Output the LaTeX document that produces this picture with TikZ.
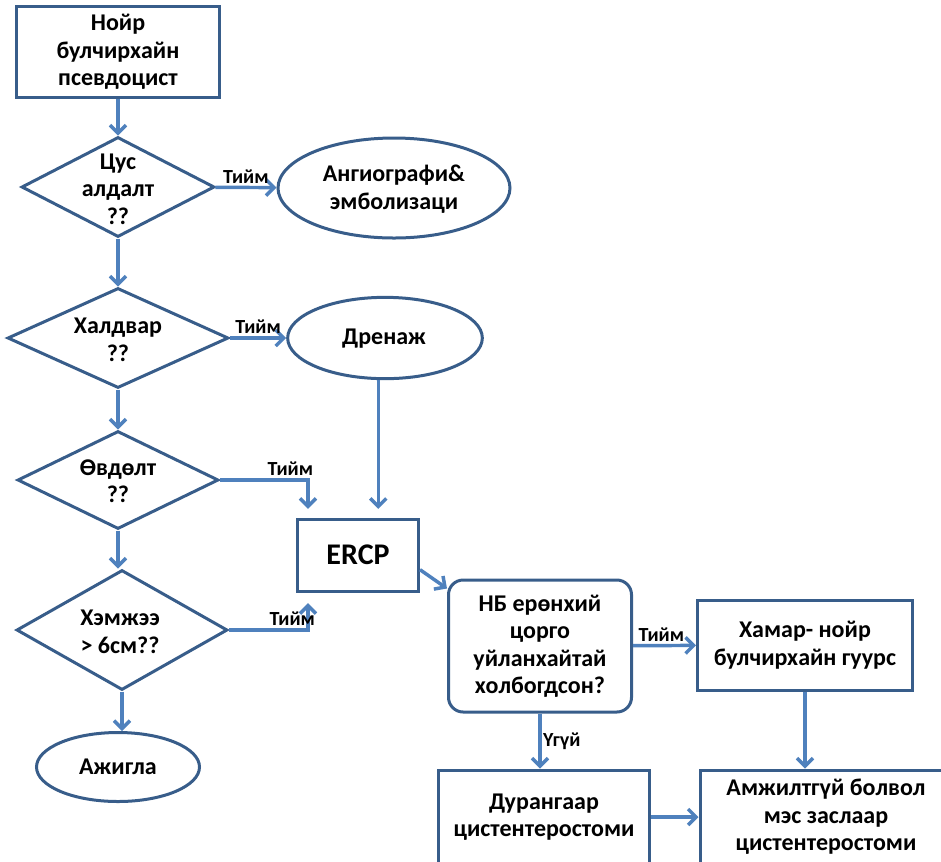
\documentclass[tikz,border=0pt]{standalone}
\usepackage{fontspec}
\setmainfont{Carlito}
\usepackage{tikz}
\usetikzlibrary{shapes.geometric}
\usetikzlibrary{arrows.meta}
\definecolor{edgeblue}{RGB}{56,93,138}
\definecolor{arrowblue}{RGB}{79,129,189}

\begin{document}
\begin{tikzpicture}[x=0.75pt,y=0.75pt,yscale=-1,xscale=1,
  box/.style={draw=edgeblue,line width=2.25pt,rectangle,align=center,font=\bfseries\fontsize{18}{20.6}\selectfont},
  dmd/.style={draw=edgeblue,line width=2.25pt,diamond,inner sep=0pt},
  oval/.style={draw=edgeblue,line width=2.25pt,ellipse,inner sep=0pt},
  txt/.style={align=center,inner sep=0pt,font=\bfseries\fontsize{18}{20.6}\selectfont},
  arr/.style={draw=arrowblue,line width=2.6pt,-{Straight Barb[length=6pt,width=12pt]}},
  yes/.style={font=\bfseries\fontsize{15}{17}\selectfont,text=black,inner sep=2pt}]
\useasboundingbox (0,0) rectangle (941,861);

%Shape: Rectangle [start]
\node [box,minimum width=152.25pt,minimum height=68.25pt] (start) at (118,52) {Нойр\\булчирхайн\\псевдоцист};

%Shape: Diamond [questions]
\node [dmd,minimum width=144.75pt,minimum height=75pt] (bleed) at (118,187) {};
\node [dmd,minimum width=165.75pt,minimum height=75pt] (infect) at (118,338) {};
\node [dmd,minimum width=150.75pt,minimum height=73.5pt] (pain) at (118,480) {};
\node [dmd,minimum width=158.25pt,minimum height=90pt] (size) at (122,630) {};
% Text Node
\node [txt] (bleedtxt) at (118,189) {Цус\\алдалт\\??};
\node [txt] (infecttxt) at (118,340) {Халдвар\\??};
\node [txt] (paintxt) at (118,481) {Өвдөлт\\??};
\node [txt] (sizetxt) at (120,632) {Хэмжээ\\> 6см??};

%Shape: Ellipse [outcomes]
\node [oval,minimum width=174pt,minimum height=75pt] (angio) at (394,188) {};
\node [oval,minimum width=146pt,minimum height=61pt] (drain) at (385,338) {};
\node [oval,minimum width=122.25pt,minimum height=51.75pt] (watch) at (118,767) {};
% Text Node
\node [txt] (angiotxt) at (394,189) {Ангиографи\&\\эмболизаци};
\node [txt] (draintxt) at (384,339) {Дренаж};
\node [txt] (watchtxt) at (118,767) {Ажигла};

%Shape: Rectangle [ERCP and after]
\node [box,minimum width=90.75pt,minimum height=54pt,font=\bfseries\fontsize{22.5}{26}\selectfont] (ercp) at (358,555) {ERCP};
\node [box,rounded corners=11pt,minimum width=137.25pt,minimum height=99pt] (duct) at (540,646) {НБ ерөнхий\\цорго\\уйланхайтай\\холбогдсон?};
\node [box,minimum width=161.25pt,minimum height=67.5pt] (tube) at (805,645) {Хамар- нойр\\булчирхайн гуурс};
\node [box,minimum width=158.25pt,minimum height=70.5pt] (endo) at (544,817) {Дурангаар\\цистентеростоми};
\node [box,minimum width=189pt,minimum height=70.5pt] (surg) at (826,817) {Амжилтгүй болвол\\мэс заслаар\\цистентеростоми};

\coordinate (ercpin) at ([xshift=9pt]ercp.north west);
\coordinate (ercpup) at ([xshift=9pt]ercp.south west);
\coordinate (drainout) at ([xshift=-5pt]drain.south);

%Straight Lines [arrows]
\draw [arr] (start) -- (bleed);
\draw [arr] (bleed) -- (infect);
\draw [arr] (infect) -- (pain);
\draw [arr] (pain.south) -- (pain.south |- size.north);
\draw [arr] (size.south) -- (size.south |- watch.north);
\draw [arr] (bleed) -- node [yes,above] {Тийм} (angio);
\draw [arr] (infect) -- node [yes,above] {Тийм} (drain);
\draw [arr,shorten >=6.5pt] (drainout) -- (drainout |- ercp.north);
\draw [arr,shorten >=6.5pt] (pain.east) -| node [yes,above,pos=0.4] {Тийм} (ercpin);
\draw [arr,shorten >=8pt] (size.east) -| node [yes,above,pos=0.4] {Тийм} (ercpup);
\draw [arr] ([yshift=11pt]ercp.east) -- ([yshift=7.5pt]duct.north west);
\draw [arr] (duct) -- node [yes,above,pos=0.45] {Тийм} (tube);
\draw [arr] (duct.south) -- node [yes,right,inner sep=1pt] {Үгүй} (duct.south |- endo.north);
\draw [arr] (tube.south) -- (tube.south |- surg.north);
\draw [arr] (endo) -- (surg);

\end{tikzpicture}
\end{document}
